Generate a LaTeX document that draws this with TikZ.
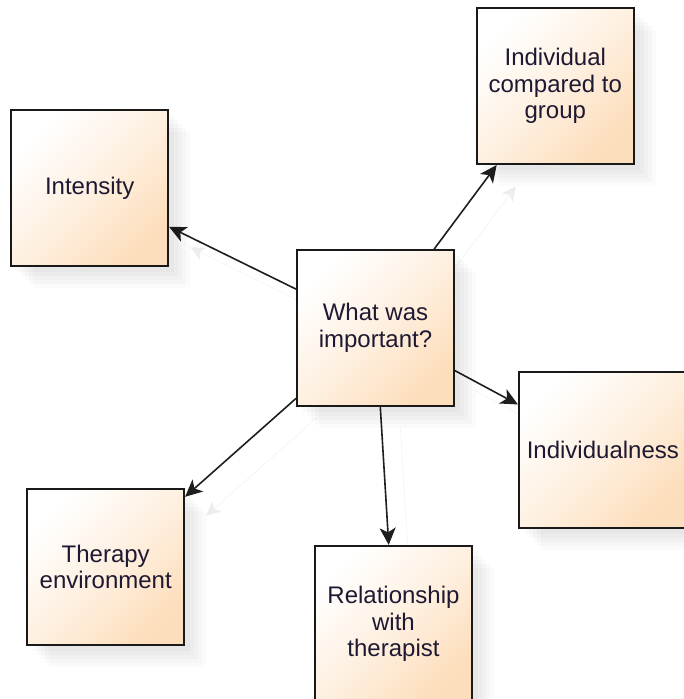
\documentclass[tikz,border=0pt]{standalone}
\usepackage{fontspec}
\setmainfont{Liberation Sans}
\usepackage{xcolor}
\usepackage{tikz}
\usetikzlibrary{arrows.meta, positioning, shadows, backgrounds}

\definecolor{peach}{RGB}{253,222,188}
\definecolor{boxline}{RGB}{25,25,25}
\definecolor{ink}{RGB}{30,25,50}
\definecolor{linkcol}{RGB}{30,30,30}

\begin{document}
\begin{tikzpicture}[
      x=1pt, y=1pt,
      softshadow/.style={
        drop shadow={shadow xshift=6pt, shadow yshift=-6pt, opacity=.02, fill=black},
        drop shadow={shadow xshift=10pt, shadow yshift=-10pt, opacity=.02, fill=black},
        drop shadow={shadow xshift=14pt, shadow yshift=-14pt, opacity=.02, fill=black},
        drop shadow={shadow xshift=18pt, shadow yshift=-18pt, opacity=.02, fill=black},
        drop shadow={shadow xshift=22pt, shadow yshift=-22pt, opacity=.015, fill=black}},
      topic/.style={
        rectangle, draw=boxline, line width=1.8pt,
        top color=white, bottom color=peach, middle color=peach!45!white,
        shading angle=45,
        minimum width=157pt, minimum height=156pt, inner sep=8pt,
        align=center, text=ink, font=\fontsize{24}{26.5}\selectfont,
        softshadow},
      link/.style={-{Stealth[length=17pt, width=16pt, inset=4.5pt]},
        line width=1.6pt, draw=linkcol,
        preaction={draw=black!7, transform canvas={shift={(20pt,-20pt)}}}}
    ]
    \useasboundingbox (0,0) rectangle (683,699);

    % --- Topics ---
    \node[topic] (main) at (375.5,371) {What was\\important?};
    \node[topic, left=127pt of main, yshift=140pt]    (intensity) {Intensity};
    \node[topic, above right=84pt and 21pt of main]   (group)     {Individual\\compared to\\group};
    \node[topic, right=63pt of main, yshift=-122pt]   (indiv)     {Individualness};
    \node[topic, below left=81pt and 111pt of main]   (setting)   {Therapy\\environment};
    \node[topic, below=138pt of main, xshift=18pt]    (relation)  {Relationship\\with\\therapist};

    % --- Links ---
    \begin{scope}[on background layer]
      \draw[link] (main) -- (intensity);
      \draw[link] (main) -- (group);
      \draw[link] (main) -- (indiv);
      \draw[link] (main) -- (setting);
      \draw[link] (main) -- (relation);
    \end{scope}
  \end{tikzpicture}
\end{document}
